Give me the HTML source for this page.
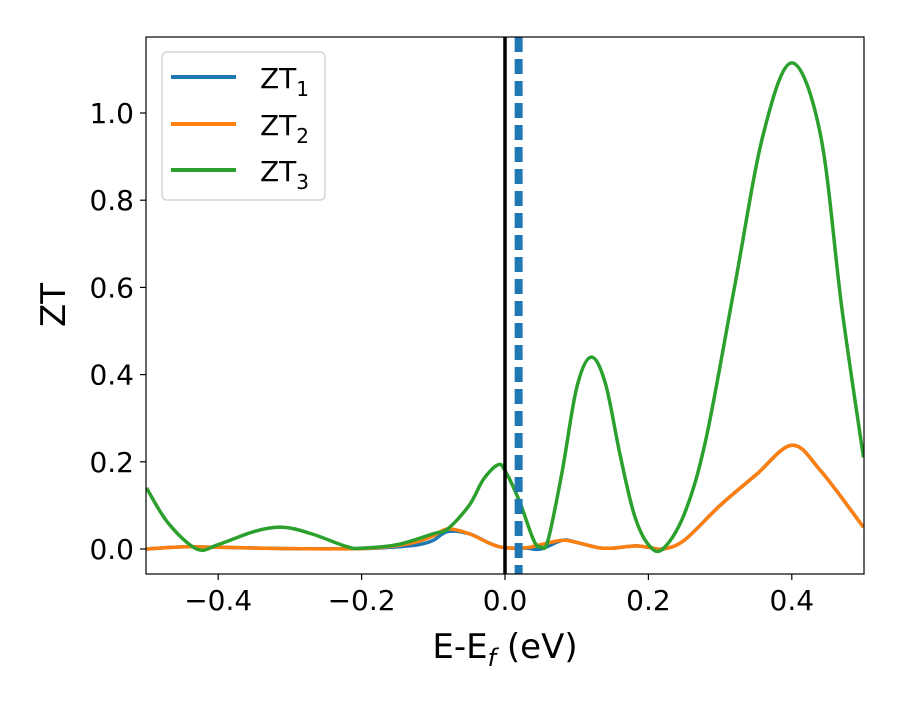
<!DOCTYPE html>
<html><head><meta charset="utf-8"><style>
body{margin:0;background:#fff}
svg text{font-family:"DejaVu Sans","Liberation Sans",sans-serif;fill:#000}
</style></head><body>
<svg width="900" height="700" id="c">
<defs><clipPath id="clip"><rect x="146" y="37" width="718" height="537"/></clipPath></defs>
<rect x="0" y="0" width="900" height="700" fill="#fff"/>
<g id="plot" clip-path="url(#clip)"></g>
<rect x="146" y="37" width="718" height="537" fill="none" stroke="#000" stroke-width="1.2"/>
<g id="ticks"></g>
<text x="505" y="658" font-size="34" text-anchor="middle">E-E<tspan font-style="italic" font-size="24" dy="8">f</tspan><tspan dy="-8"> (eV)</tspan></text>
<text transform="translate(65,305) rotate(-90)" font-size="34" text-anchor="middle">ZT</text>
<g>
<rect x="162" y="52" width="163" height="148" rx="5" fill="#fff" stroke="#ccc" stroke-width="1.2"/>
<line x1="171" y1="77" x2="236" y2="77" stroke="#1f77b4" stroke-width="4"/>
<text x="260" y="88" font-size="28">ZT<tspan font-size="20" dy="8">1</tspan></text>
<line x1="171" y1="124" x2="236" y2="124" stroke="#ff7f0e" stroke-width="4"/>
<text x="260" y="135" font-size="28">ZT<tspan font-size="20" dy="8">2</tspan></text>
<line x1="171" y1="170" x2="236" y2="170" stroke="#2ca02c" stroke-width="4"/>
<text x="260" y="181" font-size="28">ZT<tspan font-size="20" dy="8">3</tspan></text>
</g>
</svg>
<script>
const xTicks=[-0.4,-0.2,0.0,0.2,0.4];
const xTickLabels=["\u22120.4","\u22120.2","0.0","0.2","0.4"];
const yTicks=[0.0,0.2,0.4,0.6,0.8,1.0];
const yTickLabels=["0.0","0.2","0.4","0.6","0.8","1.0"];
const zt3E=[-0.5,-0.47,-0.43,-0.4,-0.35,-0.31,-0.27,-0.22,-0.2,-0.15,-0.1,-0.08,-0.05,-0.03,-0.01,0.0,0.02,0.04,0.05,0.06,0.08,0.1,0.12,0.14,0.16,0.18,0.2,0.22,0.25,0.28,0.32,0.36,0.4,0.44,0.47,0.5];
const zt3V=[0.14,0.06,0.0,0.01,0.04,0.05,0.035,0.005,0.002,0.01,0.035,0.046,0.1,0.16,0.193,0.18,0.11,0.02,0.005,0.02,0.18,0.37,0.44,0.38,0.22,0.08,0.01,0.0,0.08,0.25,0.6,0.95,1.115,0.95,0.55,0.21];
const zt2E=[-0.5,-0.45,-0.4,-0.3,-0.2,-0.15,-0.12,-0.1,-0.08,-0.05,-0.02,0.0,0.03,0.05,0.08,0.1,0.13,0.15,0.18,0.2,0.22,0.25,0.3,0.35,0.4,0.44,0.5];
const zt2V=[0.0,0.005,0.004,0.001,0.001,0.008,0.018,0.03,0.046,0.035,0.012,0.003,0.003,0.01,0.02,0.015,0.003,0.002,0.007,0.004,0.0,0.02,0.1,0.17,0.238,0.18,0.05];
const zt1E=[-0.5,-0.45,-0.4,-0.3,-0.2,-0.15,-0.12,-0.1,-0.08,-0.05,-0.02,0.0,0.03,0.05,0.08,0.1,0.13,0.15,0.18,0.2,0.22,0.25,0.3,0.35,0.4,0.44,0.5];
const zt1V=[0.0,0.005,0.004,0.001,0.001,0.005,0.01,0.02,0.04,0.035,0.012,0.003,0.002,0.0,0.02,0.015,0.003,0.002,0.007,0.004,0.0,0.02,0.1,0.17,0.238,0.18,0.05];
const fermiE=0.0, muE=0.019;
const NS="http://www.w3.org/2000/svg";
const X=e=>505+e*717;
const Y=v=>549-v*436;
function mk(t,a,p){const el=document.createElementNS(NS,t);for(const k in a)el.setAttribute(k,a[k]);p.appendChild(el);return el;}
function smooth(xs,ys){const P=xs.map((x,i)=>[X(x),Y(ys[i])]);let d="M"+P[0][0]+","+P[0][1];
for(let i=0;i<P.length-1;i++){const p0=P[Math.max(0,i-1)],p1=P[i],p2=P[i+1],p3=P[Math.min(P.length-1,i+2)];
d+=" C"+(p1[0]+(p2[0]-p0[0])/6)+","+(p1[1]+(p2[1]-p0[1])/6)+" "+(p2[0]-(p3[0]-p1[0])/6)+","+(p2[1]-(p3[1]-p1[1])/6)+" "+p2[0]+","+p2[1];}return d;}
const plot=document.getElementById('plot'),ticks=document.getElementById('ticks');
const l1=mk('path',{d:smooth(zt1E,zt1V),fill:'none',stroke:'#1f77b4','stroke-width':3.5},plot);


const l2=mk('path',{d:smooth(zt2E,zt2V),fill:'none',stroke:'#ff7f0e','stroke-width':3.5},plot);


const l3=mk('path',{d:smooth(zt3E,zt3V),fill:'none',stroke:'#2ca02c','stroke-width':3.5},plot);


const fl=mk('line',{x1:X(fermiE),x2:X(fermiE),y1:37,y2:574,stroke:'#000','stroke-width':3.5},plot);


const ml=mk('line',{x1:X(muE),x2:X(muE),y1:37,y2:574,stroke:'#1f77b4','stroke-width':8,'stroke-dasharray':'15 7'},plot);


xTicks.forEach((t,i)=>{const x=X(t);
const tk=mk('line',{x1:x,x2:x,y1:574,y2:580,stroke:'#000','stroke-width':1.2},ticks);


const tl=mk('text',{x:x,y:610,'font-size':28,'text-anchor':'middle'},ticks);tl.textContent=xTickLabels[i];

});
yTicks.forEach((t,i)=>{const y=Y(t);
const tk=mk('line',{x1:140,x2:146,y1:y,y2:y,stroke:'#000','stroke-width':1.2},ticks);


const tl=mk('text',{x:134,y:y+10,'font-size':28,'text-anchor':'end'},ticks);tl.textContent=yTickLabels[i];

});
</script>
</body></html>
